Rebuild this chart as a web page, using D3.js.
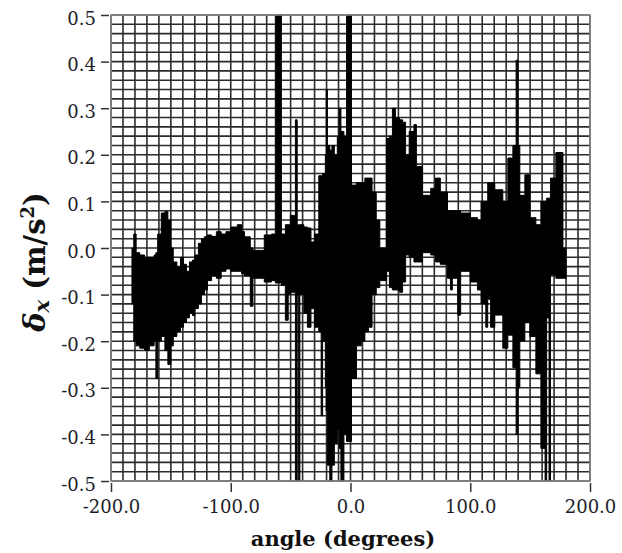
<!DOCTYPE html>
<html>
<head>
<meta charset="utf-8">
<script src="https://cdn.jsdelivr.net/npm/d3@7"></script>
<style>
  body { margin: 0; background: #fff; }
  .tick text { font-family: "DejaVu Serif", serif; font-size: 18px; fill: #1e1e28; }
  .title { font-family: "DejaVu Serif", serif; font-weight: bold; fill: #111; }
</style>
</head>
<body>
<div id="chart"></div>
<script>
// envelope of the signal (step segments start at each angle)
const angle = [-182.5, -181, -179, -176, -172, -168, -164, -162.5, -161, -158, -155, -152.5, -150, -148, -145, -142, -139.5, -137, -134.5, -132, -130, -127, -124.5, -122, -119.5, -116, -112, -108, -104, -100, -94.5, -91, -88.5, -83.7, -81.5, -76, -72, -66, -62.8, -57.7, -54.4, -52, -50.2, -46, -44.5, -43.3, -42.3, -39, -36, -33, -30, -26.5, -24.5, -23.3, -21, -20.3, -19.3, -17.3, -15.5, -13.5, -11, -9.5, -8, -5.5, -3.3, 0.8, 5, 9, 12, 15, 18, 21.5, 24.5, 30, 32.5, 35, 37.5, 41, 43.5, 46, 49, 53, 55, 60, 67, 71, 75, 81, 83.5, 85, 89.5, 92, 100, 106, 109, 113, 114.6, 117, 120.5, 127.2, 131.4, 135.6, 138.3, 139.8, 141.4, 145.6, 149.8, 154.8, 159, 162.5, 163.8, 165.8, 167, 171.5, 177.4, 180];
const upper = [0.00, 0.03, -0.01, -0.015, -0.02, -0.02, -0.015, -0.01, 0.03, 0.075, 0.078, 0.06, 0.0, -0.03, -0.04, -0.02, -0.035, -0.05, -0.03, -0.026, -0.015, 0.01, 0.02, 0.024, 0.028, 0.025, 0.035, 0.03, 0.035, 0.045, 0.05, 0.035, 0.024, 0.0, -0.005, -0.005, 0.028, 0.03, 0.6, 0.03, 0.05, 0.05, 0.07, 0.275, 0.05, 0.05, 0.05, 0.045, 0.043, 0.013, 0.03, 0.155, 0.155, 0.16, 0.20, 0.34, 0.22, 0.21, 0.22, 0.2, 0.24, 0.30, 0.25, 0.24, 0.6, 0.135, 0.14, 0.14, 0.15, 0.15, 0.12, 0.06, 0.0, 0.235, 0.24, 0.30, 0.28, 0.275, 0.27, 0.20, 0.25, 0.265, 0.175, 0.113, 0.128, 0.15, 0.12, 0.08, 0.08, 0.08, 0.08, 0.075, 0.065, 0.06, 0.1, 0.1, 0.14, 0.14, 0.125, 0.1, 0.193, 0.22, 0.403, 0.22, 0.113, 0.157, 0.065, 0.05, 0.1, 0.1, 0.107, 0.107, 0.15, 0.205, 0.0, 0.0];
const lower = [-0.12, -0.20, -0.21, -0.215, -0.22, -0.21, -0.20, -0.28, -0.20, -0.19, -0.22, -0.25, -0.21, -0.19, -0.18, -0.17, -0.16, -0.15, -0.14, -0.145, -0.13, -0.12, -0.10, -0.09, -0.07, -0.06, -0.065, -0.05, -0.045, -0.05, -0.05, -0.055, -0.06, -0.125, -0.065, -0.065, -0.073, -0.07, -0.075, -0.08, -0.155, -0.10, -0.095, -0.6, -0.10, -0.6, -0.10, -0.14, -0.17, -0.13, -0.17, -0.18, -0.36, -0.20, -0.30, -0.35, -0.466, -0.6, -0.466, -0.42, -0.39, -0.43, -0.6, -0.40, -0.415, -0.28, -0.21, -0.2, -0.18, -0.17, -0.10, -0.085, -0.07, -0.05, -0.085, -0.09, -0.09, -0.095, -0.073, -0.015, -0.02, -0.03, -0.03, -0.01, -0.015, -0.03, -0.035, -0.065, -0.09, -0.065, -0.144, -0.05, -0.073, -0.09, -0.12, -0.17, -0.11, -0.17, -0.144, -0.215, -0.187, -0.257, -0.40, -0.30, -0.2, -0.16, -0.19, -0.27, -0.43, -0.6, -0.15, -0.6, -0.058, -0.065, -0.065, -0.065];

const xTicks = [-200, -100, 0, 100, 200];
const yTicks = [-0.5, -0.4, -0.3, -0.2, -0.1, 0.0, 0.1, 0.2, 0.3, 0.4, 0.5];

const W = 622, H = 553;
const pLeft = 111, pRight = 590, pTop = 15, pBottom = 481;

const svg = d3.select("#chart")
  .append("svg")
    .attr("width", W)
    .attr("height", H);

const x = d3.scaleLinear().domain([-200, 200]).range([pLeft, pRight]);
const y = d3.scaleLinear().domain([-0.5, 0.5]).range([pBottom, pTop]);
const fmt = v => d3.format(".1f")(v).replace("\u2212", "-");

// grid
svg.append("rect")
  .attr("x", pLeft).attr("y", pTop)
  .attr("width", pRight - pLeft).attr("height", pBottom - pTop)
  .attr("fill", "#fff");

svg.append("g")
  .selectAll("line")
  .data(d3.range(-200, 201, 10))
  .enter().append("line")
    .attr("x1", d => x(d)).attr("x2", d => x(d))
    .attr("y1", pTop).attr("y2", pBottom)
    .attr("stroke", "#2b2b2b").attr("stroke-width", 1.6);

svg.append("g")
  .selectAll("line")
  .data(d3.range(0, 51).map(i => -0.5 + i * 0.02))
  .enter().append("line")
    .attr("y1", d => y(d)).attr("y2", d => y(d))
    .attr("x1", pLeft).attr("x2", pRight)
    .attr("stroke", "#2b2b2b").attr("stroke-width", 1.6);

// signal
svg.append("clipPath").attr("id", "clip")
  .append("rect")
    .attr("x", pLeft).attr("y", pTop)
    .attr("width", pRight - pLeft).attr("height", pBottom - pTop);

const data = angle.map((a, i) => ({a: a, hi: upper[i], lo: lower[i]}));

svg.append("path")
  .datum(data)
  .attr("clip-path", "url(#clip)")
  .attr("fill", "#000")
  .attr("stroke", "#000")
  .attr("stroke-width", 1)
  .attr("d", d3.area()
    .curve(d3.curveStepAfter)
    .x(d => x(d.a))
    .y0(d => y(d.lo))
    .y1(d => y(d.hi)));

// frame
svg.append("rect")
  .attr("x", pLeft).attr("y", pTop)
  .attr("width", pRight - pLeft).attr("height", pBottom - pTop)
  .attr("fill", "none")
  .attr("stroke", "#8a8a8a").attr("stroke-width", 1.5);

// axes
svg.append("g")
    .attr("transform", "translate(" + (pLeft - 2) + ",0)")
  .call(d3.axisLeft(y).tickValues(yTicks).tickFormat(fmt).tickSize(8).tickPadding(5))
  .call(g => g.select(".domain").remove())
  .call(g => g.selectAll(".tick line").attr("stroke", "#333").attr("stroke-width", 1.5))
  .call(g => g.selectAll(".tick text").attr("dy", "0.5em"));

svg.append("g")
    .attr("transform", "translate(0," + (pBottom + 2) + ")")
  .call(d3.axisBottom(x).tickValues(xTicks).tickFormat(fmt).tickSize(9).tickPadding(8))
  .call(g => g.select(".domain").remove())
  .call(g => g.selectAll(".tick line").attr("stroke", "#333").attr("stroke-width", 1.5));

// axis titles
svg.append("text")
    .attr("class", "title")
    .attr("x", 343)
    .attr("y", 546)
    .attr("text-anchor", "middle")
    .attr("font-size", 21)
    .text("angle (degrees)");

const yt = svg.append("text")
    .attr("class", "title")
    .attr("transform", "translate(45,262) rotate(-90)")
    .attr("text-anchor", "middle")
    .attr("font-size", 29);
yt.append("tspan").attr("font-style", "italic").text("\u03b4");
yt.append("tspan").attr("font-style", "italic").attr("font-size", 21).attr("dy", 4).text("x");
yt.append("tspan").attr("dy", -4).text(" (m/s");
yt.append("tspan").attr("font-size", 18).attr("dy", -11).text("2");
yt.append("tspan").attr("dy", 11).text(")");
</script>
</body>
</html>
